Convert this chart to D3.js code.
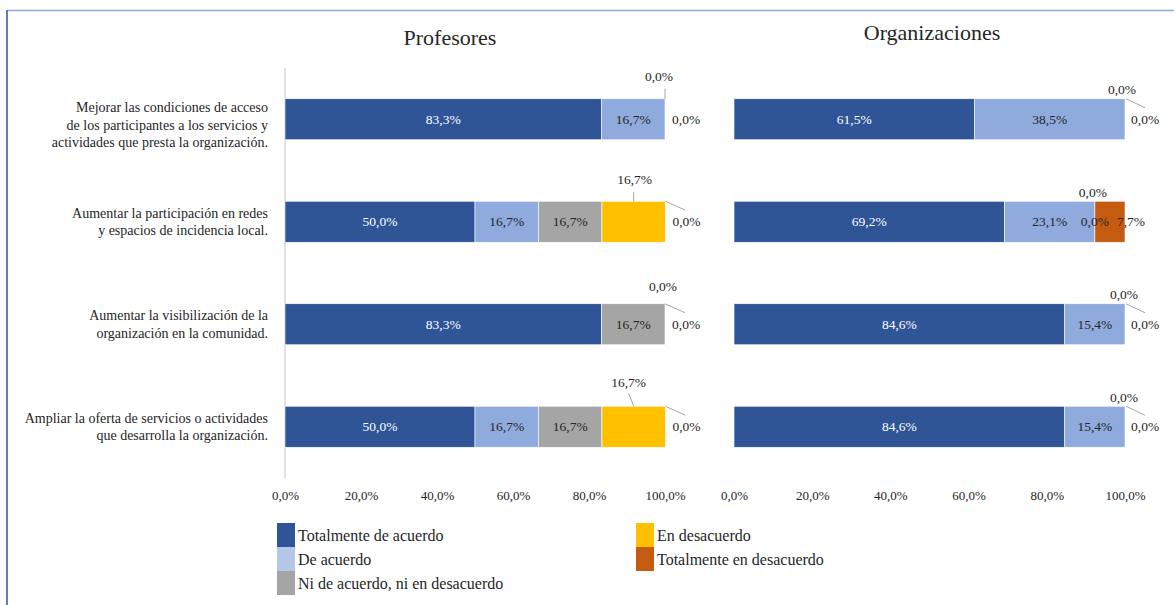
<!DOCTYPE html>
<html><head><meta charset="utf-8">
<script src="https://cdn.jsdelivr.net/npm/d3@7"></script>
<style>
html,body{margin:0;padding:0;background:#fff;}
svg{display:block;}
svg text{font-family:"Liberation Serif","DejaVu Serif",serif;}
</style></head>
<body><svg id="chart" width="1174" height="605"></svg>
<script>
// ---------- DATA ----------
const categories = [
  ["Mejorar las condiciones de acceso","de los participantes a los servicios y","actividades que presta la organización."],
  ["Aumentar la participación en redes","y espacios de incidencia local."],
  ["Aumentar la visibilización de la","organización en la comunidad."],
  ["Ampliar la oferta de servicios o actividades","que desarrolla la organización."]
];
const seriesNames = ["Totalmente de acuerdo","De acuerdo","Ni de acuerdo, ni en desacuerdo","En desacuerdo","Totalmente en desacuerdo"];
const panelTitles = ["Profesores","Organizaciones"];
// Profesores (%)
const profTotalmente   = [83.3, 50.0, 83.3, 50.0];
const profDeAcuerdo    = [16.7, 16.7, 0.0, 16.7];
const profNi           = [0.0, 16.7, 16.7, 16.7];
const profDesacuerdo   = [0.0, 16.7, 0.0, 16.7];
const profTotDes       = [0.0, 0.0, 0.0, 0.0];
// Organizaciones (%)
const orgTotalmente    = [61.5, 69.2, 84.6, 84.6];
const orgDeAcuerdo     = [38.5, 23.1, 15.4, 15.4];
const orgNi            = [0.0, 0.0, 0.0, 0.0];
const orgDesacuerdo    = [0.0, 0.0, 0.0, 0.0];
const orgTotDes        = [0.0, 7.7, 0.0, 0.0];
const tickValues = [0, 20, 40, 60, 80, 100];

// ---------- STYLE ----------
const FONT = "Liberation Serif, DejaVu Serif, serif";
const barColors = ["#2F5597","#8FAADC","#A5A5A5","#FFC000","#C55A11"];
const legendColors = ["#2F5597","#B4C7E7","#A5A5A5","#FFC000","#C55A11"];
const textColor = "#262626";
const labelSize = 13.5;

const locale = d3.formatLocale({decimal:",", thousands:".", grouping:[3], currency:["","€"]});
const fmt = v => locale.format(".1f")(v) + "%";

const svg = d3.select("#chart");

// frame
svg.append("line").attr("x1",7).attr("x2",1174).attr("y1",10.5).attr("y2",10.5)
  .attr("stroke","#8FAADC").attr("stroke-width",1.5);
svg.append("line").attr("x1",7).attr("x2",7).attr("y1",10).attr("y2",605)
  .attr("stroke","#2F5597").attr("stroke-width",1.5);

const y = d3.scaleBand().domain(d3.range(categories.length)).range([68,478])
  .paddingInner(0.6).paddingOuter(0.3);

const panels = [
  {title:panelTitles[0], series:[profTotalmente,profDeAcuerdo,profNi,profDesacuerdo,profTotDes],
   x:d3.scaleLinear().domain([0,100]).range([285,665]), axisLine:true, titleX:450, titleY:45,
   callouts:[
     {row:0,s:2,anchor:"end",dx:-6,dy:-22,ta:"middle",leader:[0,-10,0,0]},
     {row:0,s:4,anchor:"end",dx:7,dy:20.5,ta:"start"},
     {row:1,s:3,anchor:"mid",dx:1,dy:-22,ta:"middle",leader:[0,-9,0,0]},
     {row:1,s:4,anchor:"end",dx:7,dy:20.5,ta:"start",leader:[0,0,20,9]},
     {row:2,s:3,anchor:"end",dx:-2,dy:-17,ta:"middle"},
     {row:2,s:4,anchor:"end",dx:7,dy:20.5,ta:"start",leader:[0,0,20,9]},
     {row:3,s:3,anchor:"mid",dx:-5,dy:-24,ta:"middle",leader:[-5,-13,0,0]},
     {row:3,s:4,anchor:"end",dx:7,dy:20.5,ta:"start",leader:[0,0,20,9]}
   ]},
  {title:panelTitles[1], series:[orgTotalmente,orgDeAcuerdo,orgNi,orgDesacuerdo,orgTotDes],
   x:d3.scaleLinear().domain([0,100]).range([734,1125]), axisLine:false, titleX:932, titleY:40,
   callouts:[
     {row:0,s:2,anchor:"end",dx:-3,dy:-9,ta:"middle",leader:[1,0,20,9]},
     {row:0,s:4,anchor:"end",dx:6,dy:20.5,ta:"start"},
     {row:1,s:2,anchor:"end",dx:-2,dy:-9,ta:"middle"},
     {row:1,s:3,anchor:"end",dx:0,dy:20.5,ta:"middle"},
     {row:1,s:4,anchor:"mid",dx:21,dy:20.5,ta:"middle"},
     {row:2,s:2,anchor:"end",dx:-1,dy:-9,ta:"middle",leader:[1,0,20,9]},
     {row:2,s:4,anchor:"end",dx:6,dy:20.5,ta:"start"},
     {row:3,s:2,anchor:"end",dx:-1,dy:-9,ta:"middle",leader:[1,0,20,9]},
     {row:3,s:4,anchor:"end",dx:6,dy:20.5,ta:"start"}
   ]}
];

panels.forEach(p => {
  const g = svg.append("g");
  g.append("text").attr("x",p.titleX).attr("y",p.titleY).attr("text-anchor","middle")
    .attr("font-family",FONT).attr("font-size",22).attr("fill",textColor).text(p.title);
  if (p.axisLine) {
    g.append("line").attr("x1",p.x(0)).attr("x2",p.x(0)).attr("y1",y.range()[0]).attr("y2",y.range()[1])
      .attr("stroke","#D9D9D9").attr("stroke-width",1.5);
  }
  const rows = categories.map((c,i) => {
    let cum = 0;
    return p.series.map((arr,s) => { const d={row:i,s:s,v:arr[i],x0:cum,x1:cum+arr[i]}; cum+=arr[i]; return d; });
  });
  const segs = rows.flat();
  g.selectAll("rect.seg").data(segs.filter(d=>d.v>0)).join("rect")
    .attr("x",d=>p.x(d.x0)).attr("width",d=>p.x(d.x1)-p.x(d.x0))
    .attr("y",d=>y(d.row)).attr("height",y.bandwidth())
    .attr("fill",d=>barColors[d.s]).attr("stroke","#fff").attr("stroke-width",0.6);
  const callKey = new Set(p.callouts.map(c=>c.row+"_"+c.s));
  g.selectAll("text.in").data(segs.filter(d=>d.v>0 && !callKey.has(d.row+"_"+d.s))).join("text")
    .attr("x",d=>(p.x(d.x0)+p.x(d.x1))/2).attr("y",d=>y(d.row)+y.bandwidth()/2+4.5)
    .attr("text-anchor","middle").attr("font-family",FONT).attr("font-size",labelSize)
    .attr("fill",d=>d.s===0?"#fff":textColor).text(d=>fmt(d.v));
  p.callouts.forEach(c => {
    const d = rows[c.row][c.s];
    const ax = c.anchor==="end" ? p.x(d.x1) : (p.x(d.x0)+p.x(d.x1))/2;
    const top = y(c.row);
    if (c.leader) {
      g.append("line").attr("x1",ax+c.leader[0]).attr("y1",top+c.leader[1])
        .attr("x2",ax+c.leader[2]).attr("y2",top+c.leader[3])
        .attr("stroke","#A6A6A6").attr("stroke-width",1);
    }
    g.append("text").attr("x",ax+c.dx).attr("y",top+c.dy+4.5).attr("text-anchor",c.ta)
      .attr("font-family",FONT).attr("font-size",labelSize).attr("fill",textColor).text(fmt(d.v));
  });
  const axg = g.append("g").attr("transform","translate(0,478)")
    .call(d3.axisBottom(p.x).tickValues(tickValues).tickSize(0).tickPadding(13)
      .tickFormat(v=>fmt(v)));
  axg.attr("font-family",FONT);
  axg.select(".domain").remove();
  axg.selectAll("text").attr("font-size",13).attr("fill",textColor).attr("font-family",FONT);
});

// category labels
const catG = svg.append("g");
categories.forEach((lines,i) => {
  const lh = 17.5;
  const cy = y(i) + y.bandwidth()/2 - (lines.length-1)*lh/2 + (lines.length===3?6:0);
  const t = catG.append("text").attr("text-anchor","end").attr("font-family",FONT)
    .attr("font-size",14).attr("fill",textColor);
  lines.forEach((ln,k) => {
    t.append("tspan").attr("x",268).attr("y",cy + k*lh + 4.5).text(ln);
  });
});

// legend
const legendPos = [{col:0,r:0},{col:0,r:1},{col:0,r:2},{col:1,r:0},{col:1,r:1}];
const legX = [277, 636];
const legG = svg.append("g");
seriesNames.forEach((name,i) => {
  const lp = legendPos[i];
  legG.append("rect").attr("x",legX[lp.col]).attr("y",523+lp.r*24).attr("width",18).attr("height",24)
    .attr("fill",legendColors[i]);
  legG.append("text").attr("x",legX[lp.col]+21).attr("y",523+lp.r*24+18)
    .attr("font-family",FONT).attr("font-size",16).attr("fill",textColor).text(name);
});
</script>
</body></html>
